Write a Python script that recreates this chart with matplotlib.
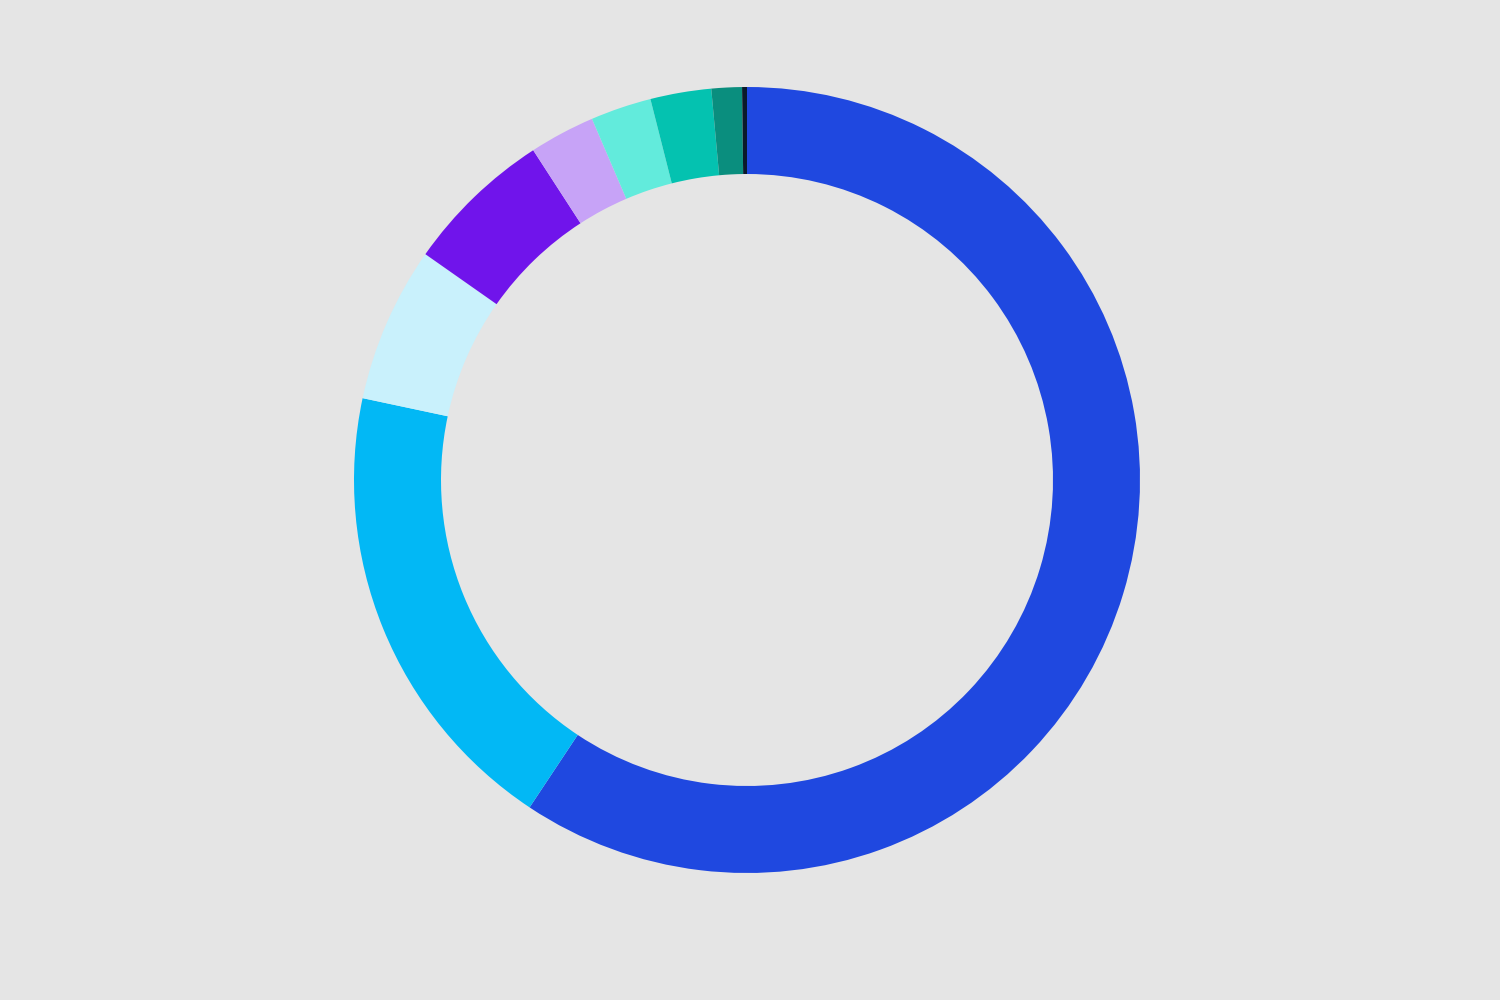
import matplotlib.pyplot as plt

# slice shares (%), clockwise from 12 o'clock
labels = ["A", "B", "C", "D", "E", "F", "G", "H", "I"]
values = [59.3, 19.0, 6.4, 6.1, 2.7, 2.5, 2.5, 1.25, 0.2]
colors = ["#1F48E0", "#02B8F5", "#C9F1FC", "#7014EB", "#C7A3F7",
          "#62EBDC", "#04C2B0", "#0A8E7E", "#0A1A2A"]

bg = "#E5E5E5"
fig = plt.figure(figsize=(15, 10), dpi=100, facecolor=bg)

# donut centre ~ (747, 480) px, outer radius ~393 px
cx, cy, r = 747, 480, 393
ax = fig.add_axes([(cx - r) / 1500, (1000 - cy - r) / 1000, 2 * r / 1500, 2 * r / 1000])
ax.set_facecolor(bg)

ax.pie(values, colors=colors, startangle=90, counterclock=False, radius=1,
       wedgeprops=dict(width=87 / 393, linewidth=0))
ax.set_xlim(-1, 1)
ax.set_ylim(-1, 1)
ax.set_aspect("equal")
ax.axis("off")

fig.savefig("out.png", dpi=100, facecolor=bg)
